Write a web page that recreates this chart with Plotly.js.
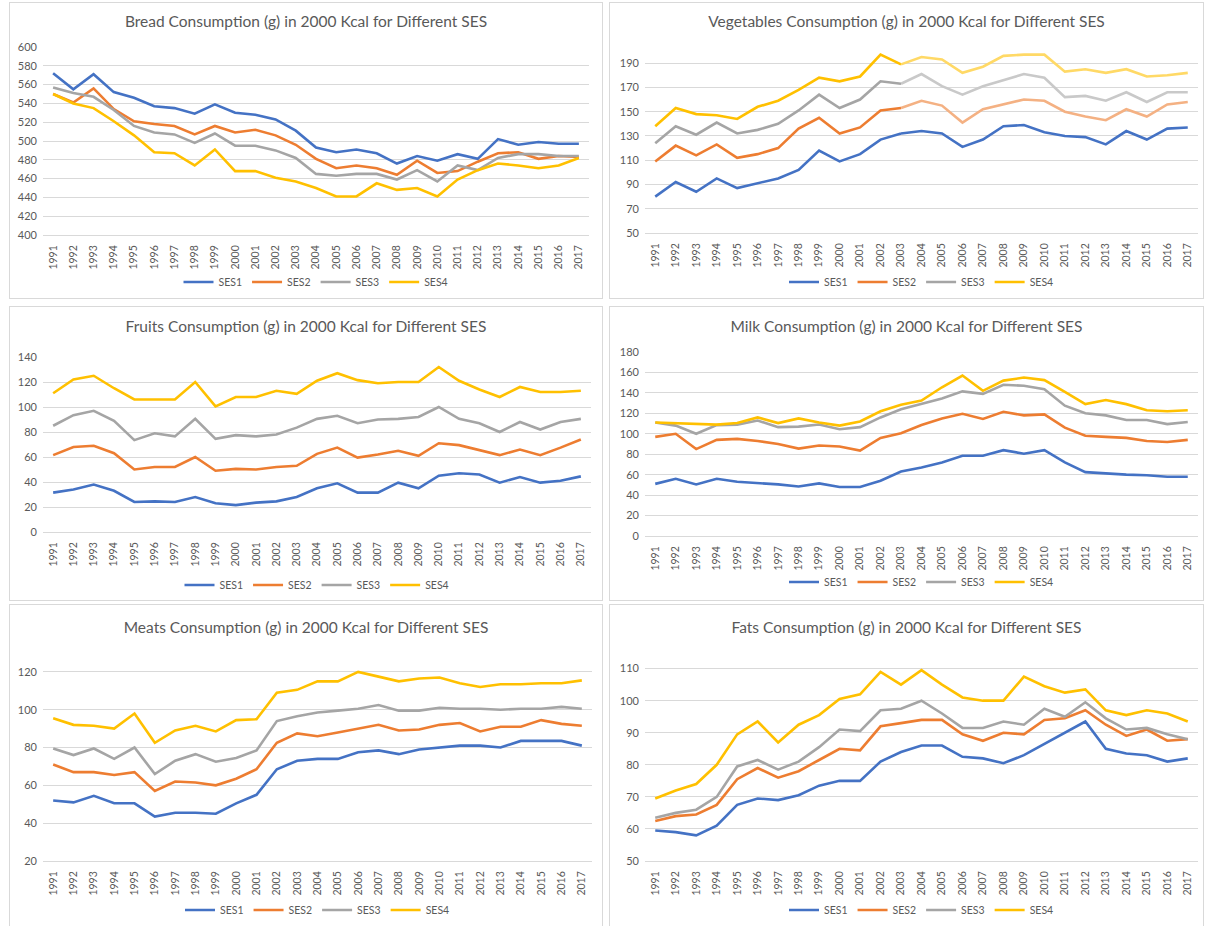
<!DOCTYPE html>
<html><head><meta charset="utf-8">
<script src="https://cdn.plot.ly/plotly-3.0.1.min.js"></script>
<style>
body{margin:0;background:#fff;width:1206px;height:926px;position:relative;overflow:hidden;}
.panel{position:absolute;border:1px solid #d9d9d9;box-sizing:border-box;background:#fff;}
.panel > div{position:absolute;left:0;top:0;}
</style></head><body>
<div class="panel" style="left:9px;top:2px;width:594px;height:297px"><div id="p1"></div></div>
<div class="panel" style="left:609px;top:2px;width:595px;height:297px"><div id="p2"></div></div>
<div class="panel" style="left:9px;top:306px;width:594px;height:295px"><div id="p3"></div></div>
<div class="panel" style="left:609px;top:306px;width:595px;height:295px"><div id="p4"></div></div>
<div class="panel" style="left:9px;top:604px;width:594px;height:324px"><div id="p5"></div></div>
<div class="panel" style="left:609px;top:604px;width:595px;height:324px"><div id="p6"></div></div>
<script>
const years = ['1991','1992','1993','1994','1995','1996','1997','1998','1999','2000','2001','2002','2003','2004','2005','2006','2007','2008','2009','2010','2011','2012','2013','2014','2015','2016','2017'];
const sesNames = ['SES1','SES2','SES3','SES4'];
const sesColors = ['#4472C4','#ED7D31','#A5A5A5','#FFC000'];
const sesFaded = ['#4472C4','#F4B183','#C9C9C9','#FFD966'];

const breadSES1 = [572,555,571,552,546,537,535,529,539,530,528,523,511,493,488,491,487,476,484,479,486,481,502,496,499,497,497];
const breadSES2 = [550,541,556,534,521,518,516,507,516,509,512,506,496,481,471,474,471,464,479,466,468,478,487,488,481,484,483];
const breadSES3 = [557,551,547,533,516,509,507,498,508,495,495,490,482,465,463,465,465,459,469,457,474,469,482,486,486,484,484];
const breadSES4 = [550,540,535,521,506,488,487,474,491,468,468,461,457,450,441,441,455,448,450,441,459,469,476,474,471,474,482];

const vegSES1 = [80,92,84,95,87,91,95,102,118,109,115,127,132,134,132,121,127,138,139,133,130,129,123,134,127,136,137];
const vegSES2 = [109,122,114,123,112,115,120,136,145,132,137,151,153,159,155,141,152,156,160,159,150,146,143,152,146,156,158];
const vegSES3 = [124,138,131,141,132,135,140,151,164,153,160,175,173,181,171,164,171,176,181,178,162,163,159,166,158,166,166];
const vegSES4 = [138,153,148,147,144,154,159,168,178,175,179,197,189,195,193,182,187,196,197,197,183,185,182,185,179,180,182];

const fruitSES1 = [31.5,34,38,33,24,24.5,24,28,23,21.5,23.5,24.5,28,35,39,31.5,31.5,39.5,35,45,47,46,39.5,44,39.5,41,44.5];
const fruitSES2 = [61.5,68,69,63,50,52,52,60,49,50.5,50,52,53,62.5,67.5,59.5,62,65,61,71,69.5,65.5,61.5,66,61.5,67.5,74];
const fruitSES3 = [85,93.5,97,89,73.5,79,76.5,90.5,74.5,77.5,76.5,78,83.5,90.5,93,87,90,90.5,92,100,90.5,87,80,88,82,88,90.5];
const fruitSES4 = [111,122,125,115,106,106,106,120,100.5,108,108,113,110.5,121,127,121.5,119,120,120,132,121,114,108,116,112,112,113];

const milkSES1 = [51,56,50.5,56,53,52,50.5,48.5,51.5,48,48,54,63,67,72,78.5,78.5,84,80.5,84,72,62.5,61,60,59.5,58,58];
const milkSES2 = [97,100,85,94,95,93,90,85.5,88.5,87.5,83.5,96,100.5,108.5,115,119.5,114.5,121.5,118,119,106,98,97,96,93,92,94];
const milkSES3 = [111,108,100,108.5,109,113,106.5,107,109,104.5,106.5,116,124,129,134.5,141.5,139,148,147,143.5,127.5,120,118,113.5,113.5,109.5,111.5];
const milkSES4 = [111,110.5,110,109,110.5,116,110.5,115,111,108,112,122,128.5,132.5,145.5,157,142,152,155,152.5,141,129,133,129,123,122,123];

const meatSES1 = [52,51,54.5,50.5,50.5,43.5,45.5,45.5,45,50.5,55,68.5,73,74,74,77.5,78.5,76.5,79,80,81,81,80,83.5,83.5,83.5,81];
const meatSES2 = [71,67,67,65.5,67,57,62,61.5,60,63.5,68.5,82.5,87.5,86,88,90,92,89,89.5,92,93,88.5,91,91,94.5,92.5,91.5];
const meatSES3 = [79.5,76,79.5,74,80,66,73,76.5,72.5,74.5,78.5,94,96.5,98.5,99.5,100.5,102.5,99.5,99.5,101,100.5,100.5,100,100.5,100.5,101.5,100.5];
const meatSES4 = [95.5,92,91.5,90,98,82.5,89,91.5,88.5,94.5,95,109,110.5,115,115,120,117.5,115,116.5,117,114,112,113.5,113.5,114,114,115.5];

const fatSES1 = [59.5,59,58,61,67.5,69.5,69,70.5,73.5,75,75,81,84,86,86,82.5,82,80.5,83,86.5,90,93.5,85,83.5,83,81,82];
const fatSES2 = [62.5,64,64.5,67.5,75.5,79,76,78,81.5,85,84.5,92,93,94,94,89.5,87.5,90,89.5,94,94.5,97,92.5,89,91,87.5,88];
const fatSES3 = [63.5,65,66,70,79.5,81.5,78.5,81,85.5,91,90.5,97,97.5,100,96,91.5,91.5,93.5,92.5,97.5,95,99.5,94.5,91,91.5,89.5,88];
const fatSES4 = [69.5,72,74,80,89.5,93.5,87,92.5,95.5,100.5,102,109,105,109.5,105,101,100,100,107.5,104.5,102.5,103.5,97,95.5,97,96,93.5];

const FONT = 'Lato, Calibri, "Liberation Sans", sans-serif';
const EXTRA = 30;

function panel(divId, w, h, m, yRange, dtick, titleText, titleY, legendY, series, fadeIdx) {
  const plotH = h - m.t - m.b;
  const H = h + EXTRA;
  const traces = [];
  series.forEach((ys, i) => {
    if (fadeIdx == null) {
      traces.push({x: years, y: ys, type: 'scatter', mode: 'lines', name: sesNames[i],
        line: {color: sesColors[i], width: 2.6}});
    } else {
      traces.push({x: years.slice(0, fadeIdx + 1), y: ys.slice(0, fadeIdx + 1), type: 'scatter', mode: 'lines', name: sesNames[i],
        line: {color: sesColors[i], width: 2.6}});
      traces.push({x: years.slice(fadeIdx), y: ys.slice(fadeIdx), type: 'scatter', mode: 'lines', name: sesNames[i], showlegend: false,
        line: {color: sesFaded[i], width: 2.6}});
    }
  });
  const layout = {
    width: w, height: H,
    margin: {l: m.l, r: m.r, t: m.t, b: m.b + EXTRA, pad: 0},
    paper_bgcolor: 'rgba(0,0,0,0)', plot_bgcolor: 'rgba(0,0,0,0)',
    font: {family: FONT, color: '#595959', size: 11},
    title: {text: titleText, font: {family: FONT, size: 15.5, color: '#595959'},
      x: 0.5, xref: 'container', xanchor: 'center', y: 1 - titleY / H, yref: 'container', yanchor: 'middle'},
    xaxis: {type: 'category', categoryorder: 'array', categoryarray: years, range: [-0.5, years.length - 0.5],
      tickangle: -90, tickfont: {size: 10.5, color: '#595959'}, showgrid: false, showline: true, linecolor: '#d9d9d9', linewidth: 1,
      ticks: '', automargin: false, fixedrange: true, ticklabelstandoff: 5},
    yaxis: {range: yRange, tickmode: 'linear', tick0: yRange[0], dtick: dtick, showgrid: true, gridcolor: '#d9d9d9', gridwidth: 1,
      zeroline: false, showline: false, ticks: '', tickfont: {size: 11, color: '#595959'}, automargin: false, fixedrange: true,
      ticklabelstandoff: 5},
    showlegend: true,
    legend: {orientation: 'h', x: 0.5, xanchor: 'center', y: -(legendY - (m.t + plotH)) / plotH, yanchor: 'middle',
      font: {size: 10.5, color: '#595959'}, itemwidth: 30, bgcolor: 'rgba(0,0,0,0)', traceorder: 'normal'}
  };
  Plotly.newPlot(divId, traces, layout, {staticPlot: true, displayModeBar: false});
}

panel('p1', 592, 295, {l: 33, r: 13, t: 44, b: 63}, [400, 600], 20,
  'Bread Consumption (g) in 2000 Kcal for Different SES', 19, 279,
  [breadSES1, breadSES2, breadSES3, breadSES4], null);
panel('p2', 593, 295, {l: 35, r: 5, t: 48, b: 65}, [50, 200], 20,
  'Vegetables Consumption (g) in 2000 Kcal for Different SES', 19, 279,
  [vegSES1, vegSES2, vegSES3, vegSES4], 12);
panel('p3', 592, 293, {l: 33, r: 11, t: 50, b: 68}, [0, 140], 20,
  'Fruits Consumption (g) in 2000 Kcal for Different SES', 20, 278,
  [fruitSES1, fruitSES2, fruitSES3, fruitSES4], null);
panel('p4', 593, 293, {l: 35, r: 5, t: 45, b: 64}, [0, 180], 20,
  'Milk Consumption (g) in 2000 Kcal for Different SES', 20, 275,
  [milkSES1, milkSES2, milkSES3, milkSES4], null);
panel('p5', 592, 322, {l: 33, r: 10, t: 65, b: 66}, [20, 121], 20,
  'Meats Consumption (g) in 2000 Kcal for Different SES', 23, 305,
  [meatSES1, meatSES2, meatSES3, meatSES4], null);
panel('p6', 593, 322, {l: 35, r: 5, t: 62, b: 66}, [50, 110.5], 10,
  'Fats Consumption (g) in 2000 Kcal for Different SES', 23, 305,
  [fatSES1, fatSES2, fatSES3, fatSES4], null);
</script>
</body></html>
